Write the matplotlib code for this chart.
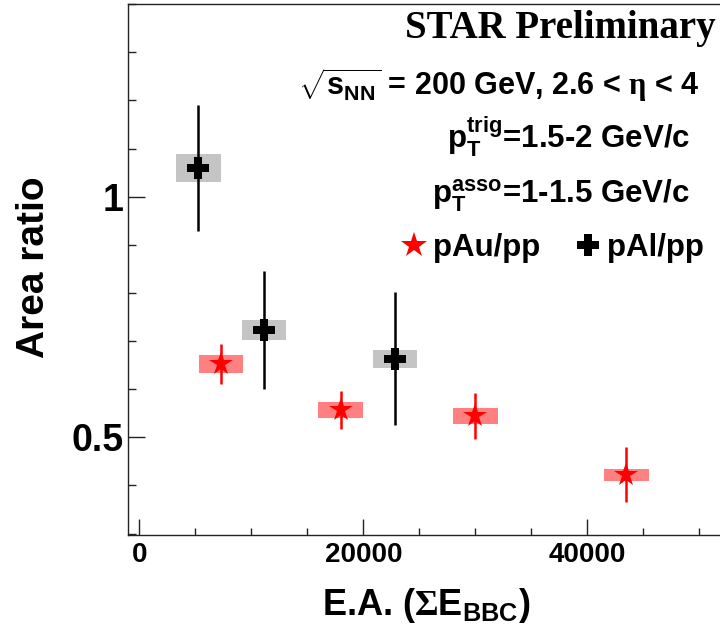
import matplotlib
matplotlib.use("Agg")
import matplotlib.pyplot as plt
from matplotlib.patches import Rectangle
from matplotlib.lines import Line2D
from matplotlib.ticker import FixedLocator, MultipleLocator

plt.rcParams["font.family"] = ["Liberation Sans", "DejaVu Sans"]
plt.rcParams["font.weight"] = "bold"
plt.rcParams["mathtext.fontset"] = "custom"
plt.rcParams["mathtext.rm"] = "Liberation Sans:bold"
plt.rcParams["mathtext.bf"] = "Liberation Sans:bold"
plt.rcParams["mathtext.sf"] = "Liberation Sans:bold"
plt.rcParams["mathtext.it"] = "Liberation Sans:bold"
plt.rcParams["mathtext.cal"] = "Liberation Serif"
plt.rcParams["mathtext.default"] = "rm"

# --- data: near-side area ratio vs event activity ---
pau_ea = [7300, 18000, 30000, 43500]
pau_ratio = [0.652, 0.557, 0.544, 0.422]
pau_stat = [0.042, 0.040, 0.048, 0.057]
pau_sys = [0.019, 0.016, 0.016, 0.012]

pal_ea = [5270, 11130, 22830]
pal_ratio = [1.060, 0.723, 0.663]
pal_stat = [0.131, 0.122, 0.138]
pal_sys = [0.029, 0.020, 0.019]

sys_half_width = 2000

xticks_major = [0, 20000, 40000]
xtick_labels = ["0", "20000", "40000"]
yticks_major = [0.5, 1.0]
ytick_labels = ["0.5", "1"]

W, H = 720, 630
fig = plt.figure(figsize=(W / 100, H / 100), dpi=100)

xlim = (-1000, 56000)
ylim = (0.297, 1.4005)
px_per_x = 0.0112
left_px, bottom_px, top_px = 128.1, 535.0, 4.0
ax_w = (xlim[1] - xlim[0]) * px_per_x
ax = fig.add_axes([left_px / W, (H - bottom_px) / H, ax_w / W, (bottom_px - top_px) / H])
ax.set_xlim(*xlim)
ax.set_ylim(*ylim)

# systematic boxes
for x, y, s in zip(pal_ea, pal_ratio, pal_sys):
    ax.add_patch(Rectangle((x - sys_half_width, y - s), 2 * sys_half_width, 2 * s,
                           facecolor="#c4c4c4", edgecolor="none", zorder=1))
for x, y, s in zip(pau_ea, pau_ratio, pau_sys):
    ax.add_patch(Rectangle((x - sys_half_width, y - s), 2 * sys_half_width, 2 * s,
                           facecolor="#ff8080", edgecolor="none", zorder=1))

# statistical error bars and points
ax.errorbar(pal_ea, pal_ratio, yerr=pal_stat, fmt="none", ecolor="black",
            elinewidth=1.8, capsize=0, zorder=2)
ax.errorbar(pau_ea, pau_ratio, yerr=pau_stat, fmt="none", ecolor="red",
            elinewidth=1.8, capsize=0, zorder=2)
ax.plot(pal_ea, pal_ratio, linestyle="none", marker="P", markersize=16,
        markerfacecolor="black", markeredgewidth=0, zorder=3)
ax.plot(pau_ea, pau_ratio, linestyle="none", marker="*", markersize=17.5,
        markerfacecolor="red", markeredgewidth=0, zorder=3)

# axes styling
for side in ("left", "bottom", "top", "right"):
    ax.spines[side].set_linewidth(1.0)
    ax.spines[side].set_color("#222222")

ax.xaxis.set_major_locator(FixedLocator(xticks_major))
ax.set_xticklabels(xtick_labels)
ax.xaxis.set_minor_locator(MultipleLocator(5000))
ax.yaxis.set_major_locator(FixedLocator(yticks_major))
ax.set_yticklabels(ytick_labels)
ax.yaxis.set_minor_locator(MultipleLocator(0.1))

ax.tick_params(axis="x", which="major", direction="in", length=11.5, width=1,
               color="#222222", labelsize=20, pad=5)
ax.tick_params(axis="x", which="minor", direction="in", length=5, width=1, color="#222222")
ax.tick_params(axis="y", which="major", direction="in", length=12, width=1,
               color="#222222", labelsize=27, pad=3.5)
ax.tick_params(axis="y", which="minor", direction="in", length=5.8, width=1, color="#222222")
ax.tick_params(top=False, right=False, which="both")

ax.set_ylabel("Area ratio", fontsize=28, fontweight="bold", va="center")
ax.yaxis.set_label_coords(34 / W, 1 - 267.5 / H, transform=fig.transFigure)
ax.set_xlabel(r"E.A. ($\mathcal{\Sigma}$E$_{BBC}$)", fontsize=26, fontweight="bold",
              va="baseline")
ax.xaxis.set_label_coords(426 / W, 1 - 615 / H, transform=fig.transFigure)

# annotation block
fig.text(716 / W, 1 - 38 / H, "STAR Preliminary", family="Liberation Serif",
         fontsize=28, fontweight="bold", ha="right", va="baseline")
fig.text(700 / W, 1 - 95 / H, r"$\sqrt{s_{NN}}$ = 200 GeV, 2.6 < $\mathcal{\eta}$ < 4",
         fontsize=22, ha="right", va="baseline")
fig.text(690 / W, 1 - 148 / H, r"$p_{T}^{trig}$=1.5-2 GeV/c",
         fontsize=22.5, ha="right", va="baseline")
fig.text(690 / W, 1 - 203 / H, r"$p_{T}^{asso}$=1-1.5 GeV/c",
         fontsize=22.5, ha="right", va="baseline")

handles = [
    Line2D([], [], linestyle="none", marker="*", markersize=19, color="red",
           markeredgewidth=0),
    Line2D([], [], linestyle="none", marker="P", markersize=16, color="black",
           markeredgewidth=0),
]
fig.legend(handles, ["pAu/pp", "pAl/pp"], ncol=2, frameon=False, fontsize=22.5,
           loc="center right", bbox_to_anchor=(704 / W, 1 - 248 / H),
           borderaxespad=0, borderpad=0, handlelength=0.9, handletextpad=0.15,
           columnspacing=1.1)

fig.savefig("out.png", dpi=100)
